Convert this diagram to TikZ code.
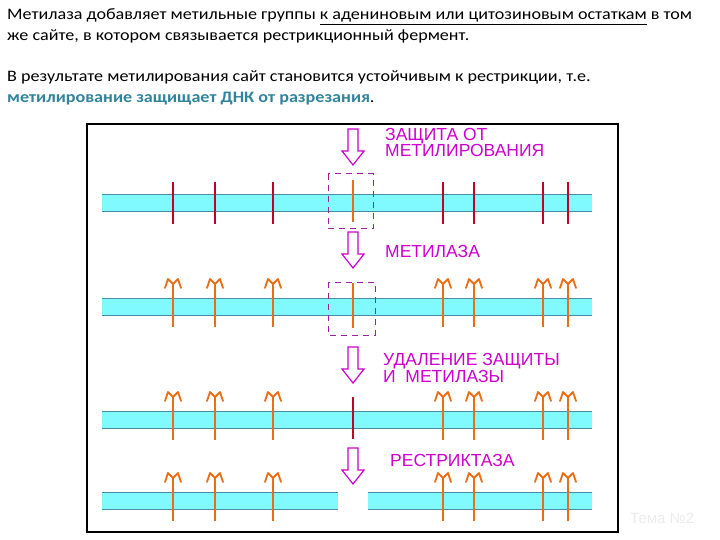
\documentclass[tikz,border=0pt]{standalone}
\usepackage{fontspec}
\setmainfont{Carlito}
\newfontfamily\hdrfont[FakeStretch=1.13]{Carlito}
\newfontfamily\schemefont{Liberation Sans}

\definecolor{dnkcyan}{RGB}{128,250,255}
\definecolor{dnkline}{RGB}{70,140,165}
\definecolor{sitered}{RGB}{195,0,40}
\definecolor{metorange}{RGB}{235,110,20}
\definecolor{labelmag}{RGB}{205,0,205}
\definecolor{boxmag}{RGB}{160,30,160}
\definecolor{notegreen}{RGB}{49,132,155}

\tikzset{
  dnkedge/.style={draw=dnkline, line width=1pt},
  siteline/.style={draw=sitered, line width=1.4pt},
  metline/.style={draw=metorange, line width=1.4pt},
  metcap/.style={draw=metorange, line width=1.8pt, line join=round, line cap=round},
  protbox/.style={draw=boxmag, dash pattern=on 6pt off 5pt, line width=1pt},
  bigarrow/.style={draw=labelmag, fill=white, line width=1.2pt, line join=miter},
  steplabel/.style={anchor=base west, text=labelmag, font=\schemefont\fontsize{17.5}{15.5}\selectfont, align=left, inner sep=0pt},
  hdr/.style={anchor=base west, inner sep=0pt, font=\hdrfont\fontsize{16}{16}\selectfont}
}

% strand: x1, x2, top
\newcommand{\dnk}[3]{%
  \fill[dnkcyan] (#1,#3) rectangle (#2,#3+17);
  \draw[dnkedge] (#1,#3) -- (#2,#3) (#1,#3+17) -- (#2,#3+17);}
% methyl mark: x, strand top
\newcommand{\metil}[2]{%
  \draw[metline] (#1,#2-14) -- (#1,#2+29);
  \draw[metcap] (#1-8,#2-10) -- (#1-5,#2-19) -- (#1,#2-14) -- (#1+5,#2-19) -- (#1+8,#2-10);}
% hollow arrow: x, top
\newcommand{\strelka}[2]{%
  \draw[bigarrow] (#1-5,#2) -- (#1+5,#2) -- (#1+5,#2+22) -- (#1+11,#2+22)
    -- (#1,#2+36) -- (#1-11,#2+22) -- (#1-5,#2+22) -- cycle;}

\begin{document}
\begin{tikzpicture}[x=1pt,y=-1pt]
\useasboundingbox (0,0) rectangle (720,540);

% text above
\node[hdr] (t1) at (7,20) {Метилаза добавляет метильные группы \underline{к адениновым или цитозиновым остаткам} в том};
\node[hdr] (t2) at (7,41) {же сайте, в котором связывается рестрикционный фермент.};
\node[hdr] (t3) at (7,82) {В результате метилирования сайт становится устойчивым к рестрикции, т.е.};
\node[hdr] (t4) at (7,103) {\textcolor{notegreen}{\bfseries метилирование защищает ДНК от разрезания}.};

\draw[line width=1.3pt] (87,124) rectangle (618,532);

% row 1
\dnk{102}{592}{195}
\foreach \x in {173,273,443,474,543}
  \draw[siteline] (\x,182) -- (\x,224);
\foreach \x in {215,568}
  \draw[siteline, line width=2.2pt] (\x,182) -- (\x,224);
\draw[metline, line width=1.3pt] (353,180) -- (353,222);
\draw[protbox] (328,174) rectangle (373,229);

% row 2
\dnk{102}{592}{298}
\foreach \x in {173,215,273,443,474,543,568}
  {\metil{\x}{298}}
\draw[metline, line width=1.3pt] (353,283) -- (353,328);
\draw[protbox] (328,282) rectangle (375,335);

% row 3
\dnk{102}{592}{411}
\foreach \x in {173,215,273,443,474,543,568}
  {\metil{\x}{411}}
\draw[siteline, line width=1.3pt] (353,397) -- (353,439);

% row 4
\dnk{102}{338}{492}
\dnk{368}{592}{492}
\foreach \x in {173,215,273,443,474,543,568}
  {\metil{\x}{492}}

% arrows and labels
\strelka{353}{129}
\strelka{353}{232}
\strelka{353}{347}
\strelka{353}{448}
\node[steplabel] (zashchita) at (385,157) {ЗАЩИТА ОТ\\МЕТИЛИРОВАНИЯ};
\node[steplabel] (metilaza) at (385,257) {МЕТИЛАЗА};
\node[steplabel] (udalenie) at (383,382) {УДАЛЕНИЕ ЗАЩИТЫ\\И\ \ МЕТИЛАЗЫ};
\node[steplabel] (restriktaza) at (390,466) {РЕСТРИКТАЗА};

\node[anchor=base west, inner sep=0pt, text=black!8, font=\schemefont\fontsize{15}{15}\selectfont] (tema) at (630,523) {Тема №2};
\end{tikzpicture}
\end{document}
